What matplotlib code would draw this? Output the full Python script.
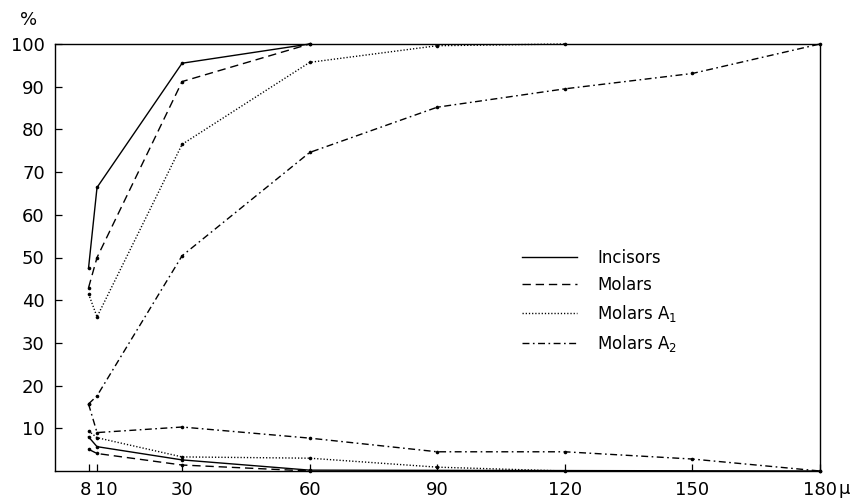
import matplotlib
matplotlib.use("Agg")
import matplotlib.pyplot as plt
import matplotlib.transforms as mtransforms
from matplotlib.lines import Line2D

# ---- data ----
x_full = [8, 10, 30, 60, 90, 120, 150, 180]

inc_upper_x = [8, 10, 30, 60]
inc_upper_y = [47.5, 66.4, 95.5, 100]
inc_lower_x = [8, 10, 30, 60, 180]
inc_lower_y = [8.0, 5.7, 2.6, 0.2, 0]

mol_upper_x = [8, 10, 30, 60]
mol_upper_y = [42.9, 50.0, 91.2, 100]
mol_lower_x = [8, 10, 30, 60]
mol_lower_y = [5.1, 4.1, 1.4, 0]

a1_upper_x = [8, 10, 30, 60, 90, 120]
a1_upper_y = [41.5, 36.1, 76.5, 95.7, 99.6, 100]
a1_lower_x = [8, 10, 30, 60, 90, 120]
a1_lower_y = [9.4, 7.8, 3.3, 3.0, 0.9, 0]

a2_upper_x = x_full
a2_upper_y = [15.7, 17.6, 50.4, 74.6, 85.2, 89.5, 93.1, 100]
a2_lower_x = x_full
a2_lower_y = [15.7, 9.0, 10.3, 7.7, 4.5, 4.5, 2.8, 0]

series_labels = ["Incisors", "Molars", "Molars A$_1$", "Molars A$_2$"]
x_ticks = [8, 10, 30, 60, 90, 120, 150, 180]
x_ticklabels = ["8", "10", "30", "60", "90", "120", "150", "180"]
y_ticks = [10, 20, 30, 40, 50, 60, 70, 80, 90, 100]

# ---- styles ----
styles = [
    dict(linestyle="-"),
    dict(linestyle=(0, (6, 3.5))),
    dict(linestyle=(0, (0.9, 1.4))),
    dict(linestyle=(0, (5, 2.5, 1.2, 2.5))),
]

plt.rcParams["font.family"] = ["DejaVu Sans"]

fig = plt.figure(figsize=(8.57, 4.99), dpi=100)
ax = fig.add_axes([54.5 / 857, 28 / 499, (820 - 54.5) / 857, (471 - 44) / 499])

groups = [
    (inc_upper_x, inc_upper_y, inc_lower_x, inc_lower_y),
    (mol_upper_x, mol_upper_y, mol_lower_x, mol_lower_y),
    (a1_upper_x, a1_upper_y, a1_lower_x, a1_lower_y),
    (a2_upper_x, a2_upper_y, a2_lower_x, a2_lower_y),
]

lw = 1.0
for (ux, uy, lx, ly), st in zip(groups, styles):
    for xs, ys in ((ux, uy), (lx, ly)):
        ax.plot(xs, ys, color="black", lw=lw, marker="o", markersize=2.6,
                markeredgewidth=0, clip_on=False, **st)

ax.set_xlim(0, 180)
ax.set_ylim(0, 100)
ax.set_xticks(x_ticks)
ax.set_xticklabels(x_ticklabels)
ax.set_yticks(y_ticks)
ax.set_yticklabels([str(v) for v in y_ticks])
ax.tick_params(direction="in", length=5, width=0.9, labelsize=13, pad=7,
               top=False, right=False)
for s in ax.spines.values():
    s.set_linewidth(1.0)

# nudge the crowded "8" and "10" labels apart, as in the reference
xlabels = ax.get_xticklabels()
shifts = {0: -3, 1: 9}
for i, dx in shifts.items():
    lab = xlabels[i]
    lab.set_transform(lab.get_transform() +
                      mtransforms.ScaledTranslation(dx / 100, 0, fig.dpi_scale_trans))

ax.annotate("μ", xy=(180, 0), xycoords="data", xytext=(13, -6.5),
            textcoords="offset points", ha="left", va="top", fontsize=13)
fig.text(29 / 857, 1 - 20 / 499, "%", ha="center", va="center", fontsize=13)

handles = [Line2D([], [], color="black", lw=lw, **st) for st in styles]
ax.legend(handles, series_labels, loc="upper left",
          bbox_to_anchor=(0.611, 0.521), frameon=False, fontsize=12,
          handlelength=3.3, handletextpad=1.2, labelspacing=0.55,
          borderpad=0, borderaxespad=0)

fig.savefig("out.png", dpi=100)
